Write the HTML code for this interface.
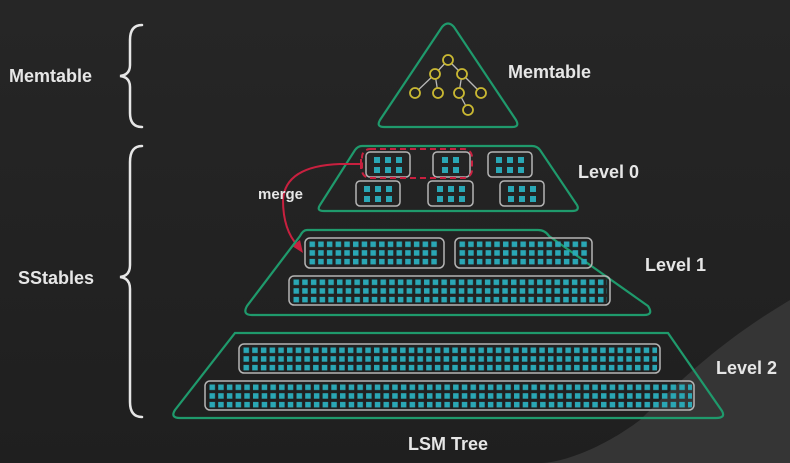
<!DOCTYPE html>
<html><head><style>
html,body{margin:0;padding:0;background:#242424;}
svg{display:block;}
text{font-family:"Liberation Sans",sans-serif;font-weight:bold;fill:#e6e6e6;}
</style></head><body>
<svg width="790" height="463" viewBox="0 0 790 463">
<defs>
<linearGradient id="bg" x1="0" y1="0" x2="0" y2="1">
<stop offset="0" stop-color="#262626"/><stop offset="1" stop-color="#1f1f1f"/>
</linearGradient>
<pattern id="p1a" x="309" y="241" width="8.7" height="8.7" patternUnits="userSpaceOnUse"><rect x="0.5" y="0.5" width="5.5" height="5.5" fill="#2aa7b5"/></pattern>
<pattern id="p1b" x="459" y="241" width="8.7" height="8.7" patternUnits="userSpaceOnUse"><rect x="0.5" y="0.5" width="5.5" height="5.5" fill="#2aa7b5"/></pattern>
<pattern id="p1c" x="293" y="279" width="8.7" height="8.7" patternUnits="userSpaceOnUse"><rect x="0.5" y="0.5" width="5.5" height="5.5" fill="#2aa7b5"/></pattern>
<pattern id="p2a" x="243" y="347" width="8.7" height="8.7" patternUnits="userSpaceOnUse"><rect x="0.5" y="0.5" width="5.5" height="5.5" fill="#2aa7b5"/></pattern>
<pattern id="p2b" x="209" y="384" width="8.7" height="8.7" patternUnits="userSpaceOnUse"><rect x="0.5" y="0.5" width="5.5" height="5.5" fill="#2aa7b5"/></pattern>
<pattern id="p0" x="0" y="0" width="11" height="11" patternUnits="userSpaceOnUse"><rect x="0" y="0" width="6" height="6" fill="#2aa7b5"/></pattern>
</defs>
<rect width="790" height="463" fill="url(#bg)"/>
<path d="M790 300 C740 330 700 360 640 420 C600 450 560 463 540 463 L790 463 Z" fill="#353535"/>

<!-- braces -->
<g fill="none" stroke="#e6e6e6" stroke-width="2.5" stroke-linecap="round">
<path d="M142 25 Q130 25 130 40 L130 65 Q130 75 120 76 Q130 77 130 87 L130 113 Q130 127 142 127"/>
<path d="M142 146 Q130 146 130 162 L130 265 Q130 276 120 277 Q130 278 130 289 L130 402 Q130 417 142 417"/>
</g>
<text x="9" y="82" font-size="18">Memtable</text>
<text x="18" y="284" font-size="18">SStables</text>

<!-- memtable triangle -->
<path d="M442 27 Q448 20 454 27 L516 120 Q520 127 512 127 L384 127 Q376 127 380 120 Z" fill="none" stroke="#1f9a6c" stroke-width="2.2"/>
<g stroke="#b8b8b8" stroke-width="1.3">
<line x1="448" y1="60" x2="435" y2="74"/><line x1="448" y1="60" x2="462" y2="74"/>
<line x1="435" y1="74" x2="415" y2="93"/><line x1="435" y1="74" x2="438" y2="93"/>
<line x1="462" y1="74" x2="459" y2="93"/><line x1="462" y1="74" x2="481" y2="93"/>
<line x1="459" y1="93" x2="468" y2="110"/>
</g>
<g fill="#242424" stroke="#c9b832" stroke-width="1.8">
<circle cx="448" cy="60" r="5"/><circle cx="435" cy="74" r="5"/><circle cx="462" cy="74" r="5"/>
<circle cx="415" cy="93" r="5"/><circle cx="438" cy="93" r="5"/><circle cx="459" cy="93" r="5"/><circle cx="481" cy="93" r="5"/>
<circle cx="468" cy="110" r="5"/>
</g>
<text x="508" y="78" font-size="18">Memtable</text>

<!-- level 0 -->
<path d="M362 146 L532 146 Q537 146 540 150 L577 205 Q580 211 572 211 L324 211 Q316 211 320 205 L355 150 Q358 146 362 146 Z" fill="none" stroke="#1f9a6c" stroke-width="2.2"/>
<g fill="none" stroke="#b5b5b5" stroke-width="1.5">
<rect x="366" y="152" width="44" height="25" rx="4"/>
<rect x="433" y="152" width="37" height="25" rx="4"/>
<rect x="488" y="152" width="44" height="25" rx="4"/>
<rect x="356" y="181" width="44" height="25" rx="4"/>
<rect x="428" y="181" width="45" height="25" rx="4"/>
<rect x="500" y="181" width="44" height="25" rx="4"/>
</g>
<g fill="#2aa7b5">
<rect x="374" y="157" width="6" height="6"/><rect x="385" y="157" width="6" height="6"/><rect x="396" y="157" width="6" height="6"/>
<rect x="374" y="167" width="6" height="6"/><rect x="385" y="167" width="6" height="6"/><rect x="396" y="167" width="6" height="6"/>
<rect x="442" y="157" width="6" height="6"/><rect x="453" y="157" width="6" height="6"/>
<rect x="442" y="167" width="6" height="6"/><rect x="453" y="167" width="6" height="6"/>
<rect x="496" y="157" width="6" height="6"/><rect x="507" y="157" width="6" height="6"/><rect x="518" y="157" width="6" height="6"/>
<rect x="496" y="167" width="6" height="6"/><rect x="507" y="167" width="6" height="6"/><rect x="518" y="167" width="6" height="6"/>
<rect x="364" y="186" width="6" height="6"/><rect x="375" y="186" width="6" height="6"/><rect x="386" y="186" width="6" height="6"/>
<rect x="364" y="196" width="6" height="6"/><rect x="375" y="196" width="6" height="6"/><rect x="386" y="196" width="6" height="6"/>
<rect x="437" y="186" width="6" height="6"/><rect x="448" y="186" width="6" height="6"/><rect x="459" y="186" width="6" height="6"/>
<rect x="437" y="196" width="6" height="6"/><rect x="448" y="196" width="6" height="6"/><rect x="459" y="196" width="6" height="6"/>
<rect x="508" y="186" width="6" height="6"/><rect x="519" y="186" width="6" height="6"/><rect x="530" y="186" width="6" height="6"/>
<rect x="508" y="196" width="6" height="6"/><rect x="519" y="196" width="6" height="6"/><rect x="530" y="196" width="6" height="6"/>
</g>
<rect x="362" y="149" width="110" height="29" rx="8" fill="none" stroke="#c8203f" stroke-width="2" stroke-dasharray="6,4"/>
<text x="578" y="178" font-size="18">Level 0</text>

<!-- merge arrow -->
<path d="M362 164 L340 164 Q285 166 283 200 Q283 230 298 246" fill="none" stroke="#c8203f" stroke-width="2"/>
<line x1="361" y1="159" x2="361" y2="169" stroke="#c8203f" stroke-width="2"/>
<path d="M303 253 L292 246 L300 240 Z" fill="#c8203f"/>
<text x="258" y="199" font-size="15">merge</text>

<!-- level 1 -->
<path d="M307 230 L538 230 Q545 230 549 236 L648 306 Q654 315 644 315 L252 315 Q242 315 247 306 L300 236 Q303 230 307 230 Z" fill="none" stroke="#1f9a6c" stroke-width="2.2"/>
<rect x="309" y="241" width="131" height="25" fill="url(#p1a)"/>
<rect x="459" y="241" width="131" height="25" fill="url(#p1b)"/>
<rect x="293" y="279" width="314" height="25" fill="url(#p1c)"/>
<g fill="none" stroke="#b5b5b5" stroke-width="1.5">
<rect x="305" y="238" width="139" height="30" rx="5"/>
<rect x="455" y="238" width="137" height="30" rx="5"/>
<rect x="289" y="276" width="321" height="29" rx="5"/>
</g>
<text x="645" y="271" font-size="18">Level 1</text>

<!-- level 2 -->
<path d="M235 333 L668 333 L722 411 Q726 418 716 418 L180 418 Q170 418 175 410 Z" fill="none" stroke="#1f9a6c" stroke-width="2.2"/>
<rect x="243" y="347" width="414" height="25" fill="url(#p2a)"/>
<rect x="209" y="384" width="483" height="25" fill="url(#p2b)"/>
<g fill="none" stroke="#b5b5b5" stroke-width="1.5">
<rect x="239" y="344" width="421" height="29" rx="5"/>
<rect x="205" y="381" width="489" height="29" rx="5"/>
</g>
<text x="716" y="374" font-size="18">Level 2</text>

<text x="448" y="450" font-size="18" text-anchor="middle" fill="#d0d0d0">LSM Tree</text>
</svg>
</body></html>
